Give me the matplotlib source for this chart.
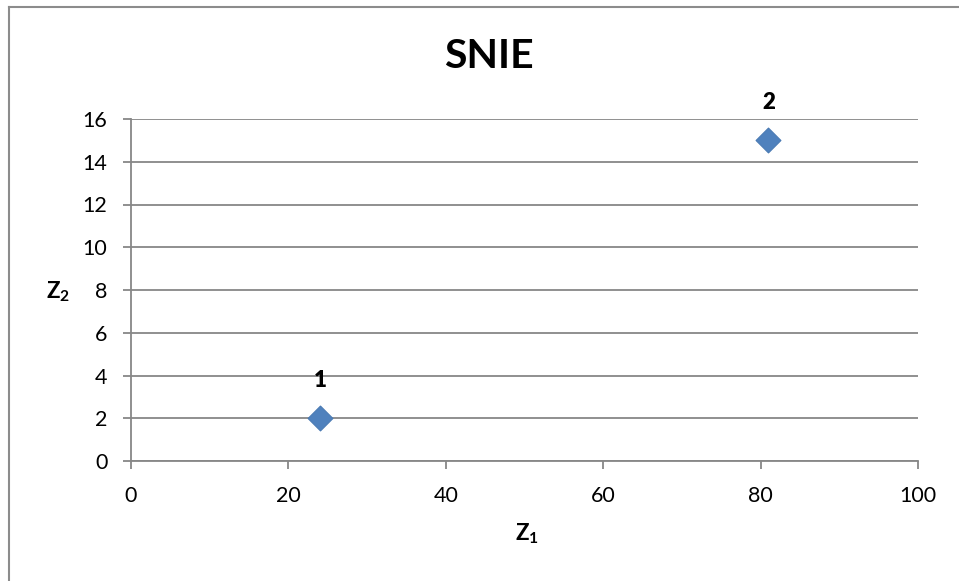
import matplotlib.pyplot as plt
from matplotlib.lines import Line2D

# data
z1 = [24, 81]
z2 = [2, 15]
point_labels = ['1', '2']
x_ticks = [0, 20, 40, 60, 80, 100]
y_ticks = [0, 2, 4, 6, 8, 10, 12, 14, 16]

plt.rcParams['font.family'] = ['Lato', 'DejaVu Sans']
plt.rcParams['mathtext.fontset'] = 'custom'
plt.rcParams['mathtext.rm'] = 'Lato'
plt.rcParams['mathtext.bf'] = 'Lato:bold'

fig = plt.figure(figsize=(9.59, 5.81), dpi=100)
ax = fig.add_axes([131 / 959, 1 - 461 / 581, (918 - 131) / 959, (461 - 119) / 581])

ax.scatter(z1, z2, marker='D', s=160, color='#4F81BD', edgecolor='#4A7AB3',
           linewidth=0.8, zorder=3)
for x, y, lab in zip(z1, z2, point_labels):
    ax.annotate(lab, (x, y), xytext=(0, 27), textcoords='offset points',
                ha='center', va='center', fontsize=16, fontweight='heavy')

ax.set_xlim(0, 100)
ax.set_ylim(0, 16)
ax.set_xticks(x_ticks)
ax.set_yticks(y_ticks)
ax.tick_params(labelsize=15.5, length=6, width=1.3, color='#878787')
ax.tick_params(axis='y', pad=11)
ax.tick_params(axis='x', pad=12)
ax.grid(axis='y', color='#878787', linewidth=1.3)
ax.set_axisbelow(True)
for side in ['top', 'right']:
    ax.spines[side].set_visible(False)
for side in ['left', 'bottom']:
    ax.spines[side].set_color('#878787')
    ax.spines[side].set_linewidth(1.3)

fig.text(489 / 959, 1 - 57 / 581, 'SNIE', ha='center', va='center',
         fontsize=29.5, fontweight='bold')
fig.text(527 / 959, 1 - 534 / 581, r'$\mathbf{Z_1}$', ha='center', va='center',
         fontsize=16)
fig.text(58 / 959, 1 - 292 / 581, r'$\mathbf{Z_2}$', ha='center', va='center',
         fontsize=16)

# chart area border (left and top edges visible)
fig.add_artist(Line2D([9 / 959, 9 / 959], [0, 1 - 7 / 581], color='#8c8c8c', lw=1.5))
fig.add_artist(Line2D([9 / 959, 1], [1 - 7 / 581, 1 - 7 / 581], color='#8c8c8c', lw=1.5))

fig.savefig('out.png', dpi=100)
